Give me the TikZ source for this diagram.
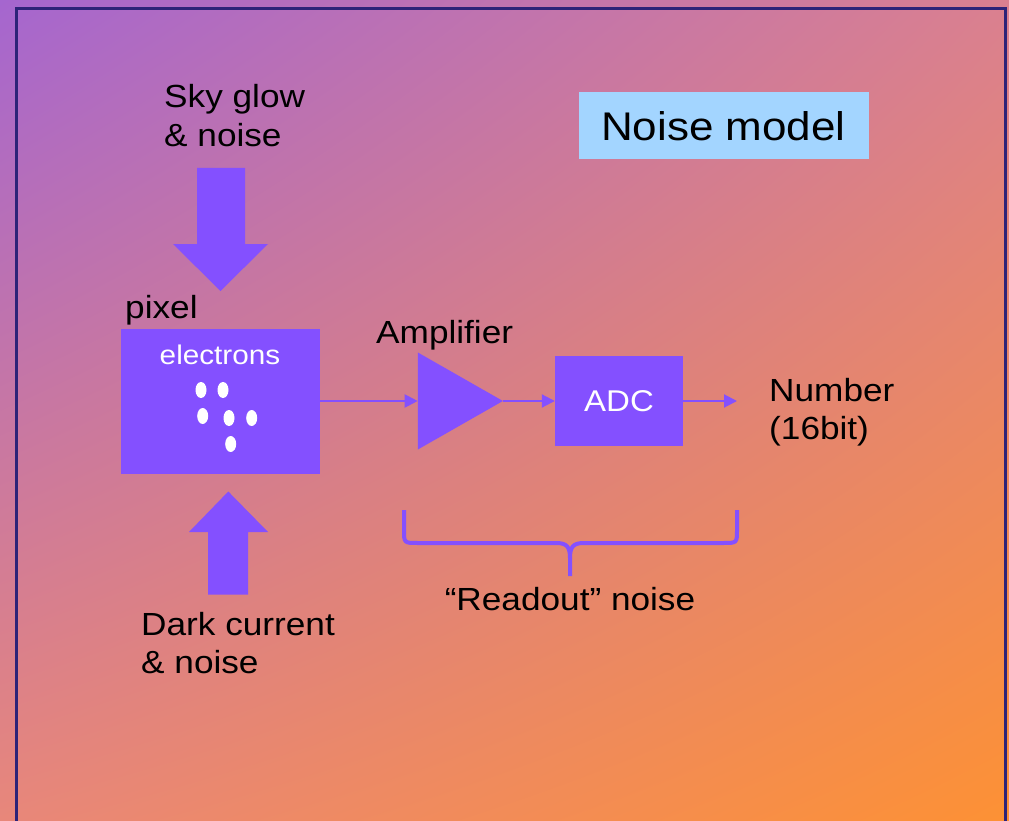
\documentclass[tikz,border=0pt]{standalone}
\usepackage{fontspec}
\setmainfont[FakeStretch=1.1]{Liberation Sans}
\usetikzlibrary{shapes.geometric,arrows.meta,shadings}
\definecolor{bgTL}{HTML}{A566CF}
\definecolor{bgTR}{HTML}{DA8090}
\definecolor{bgBL}{HTML}{E8877A}
\definecolor{bgBR}{HTML}{FD9134}
\definecolor{vio}{HTML}{8450FF}
\definecolor{lblue}{HTML}{A3D5FF}
\definecolor{framecol}{HTML}{2D2378}
\newcommand{\mytwolines}[2]{\vtop{\hbox{#1}\hbox{#2}}}
\begin{document}
\begin{tikzpicture}[x=1pt,y=-1pt,
  lbl/.style={inner sep=0pt, anchor=base west, font=\fontsize{32}{38.5}\selectfont, text=black},
  blockbox/.style={fill=vio, draw=none, inner sep=0pt},
  conn/.style={draw=vio, line width=2pt, -{Triangle[length=13pt,width=13pt]}},
  bigarrow/.style={fill=vio},
  dot/.style={fill=white}
]
\useasboundingbox (0,0) rectangle (1009,821);
\shade[upper left=bgTL, upper right=bgTR, lower left=bgBL, lower right=bgBR] (0,0) rectangle (1009,821);
\begin{scope}
\clip (0,0) rectangle (1009,821);
\draw[framecol, line width=2.6pt] (16.7,830) -- (16.7,8.7) -- (1005.5,8.7) -- (1005.5,830);
\end{scope}

% title
\node[fill=lblue, minimum width=290, minimum height=67, inner sep=0pt,
      font=\fontsize{40}{48}\selectfont] (title) at (723.5,126) {Noise model};

% pixel
\node[blockbox, minimum width=199, minimum height=145] (pix) at (220.5,401) {};
\node[inner sep=0pt, anchor=base, text=white, font=\fontsize{27}{32}\selectfont] (elec) at (220,364) {electrons};
\fill[dot] (201,390) ellipse [x radius=5.5pt, y radius=8pt];
\fill[dot] (223,390) ellipse [x radius=5.5pt, y radius=8pt];
\fill[dot] (202.7,416) ellipse [x radius=5.5pt, y radius=8pt];
\fill[dot] (229,418) ellipse [x radius=5.5pt, y radius=8pt];
\fill[dot] (251.7,418) ellipse [x radius=5.5pt, y radius=8pt];
\fill[dot] (230.7,444) ellipse [x radius=5.5pt, y radius=8pt];

% amplifier
\node[fill=vio, draw=none, isosceles triangle, isosceles triangle stretches,
      minimum width=97, minimum height=85, inner sep=0pt, anchor=lower side] (amp) at (417.7,401) {};

% ADC
\node[blockbox, minimum width=128, minimum height=90, text=white,
      font=\fontsize{30}{36}\selectfont] (adc) at (619,401) {ADC};
\coordinate (out) at (737,401);

\draw[conn] (pix.east) -- (amp.lower side);
\draw[conn] (amp.apex) -- (adc.west);
\draw[conn] (adc.east) -- (out);

% big arrows
\fill[bigarrow] (197,168) -- (245,168) -- (245,244) -- (268,244) -- (220.5,291) -- (173,244) -- (197,244) -- cycle;
\fill[bigarrow] (208,594.5) -- (248,594.5) -- (248,532) -- (268,532) -- (228.3,491.5) -- (189,532) -- (208,532) -- cycle;

% brace
\draw[vio, line width=4pt]
  (404,510) -- (404,530) .. controls (404,543) and (404,543) .. (418,543) -- (556,543)
  .. controls (567,543) and (570,547) .. (570,558) -- (570,576);
\draw[vio, line width=4pt]
  (737,510) -- (737,530) .. controls (737,543) and (737,543) .. (723,543) -- (584,543)
  .. controls (573,543) and (570,547) .. (570,558);

% labels
\node[lbl] (sky) at (164,108) {\mytwolines{Sky glow}{\& noise}};
\node[lbl] (pixl) at (125,318) {pixel};
\node[lbl] (dark) at (141,635) {\mytwolines{Dark current}{\& noise}};
\node[lbl] (ampl) at (376,343) {Amplifier};
\node[lbl] (num) at (769,401) {\mytwolines{Number}{(16bit)}};
\node[lbl, anchor=base] (readout) at (570,610) {“Readout” noise};
\end{tikzpicture}
\end{document}
